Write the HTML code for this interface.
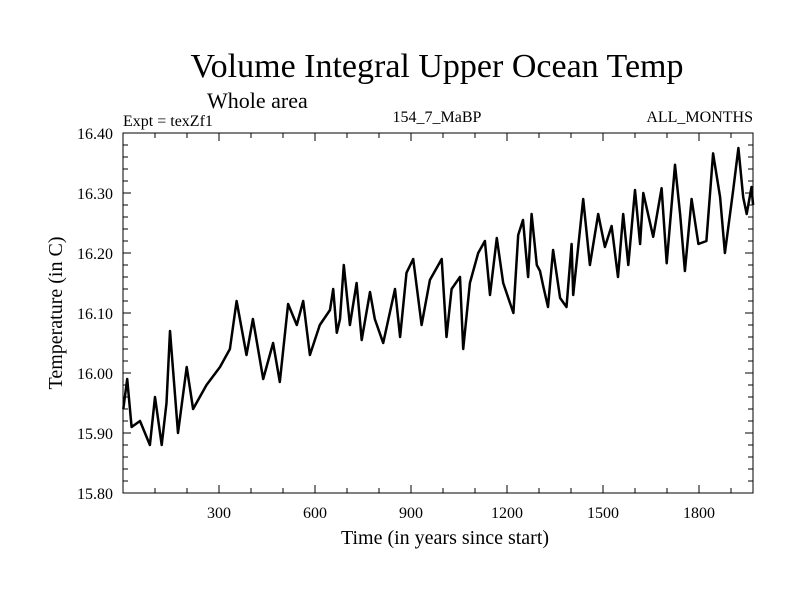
<!DOCTYPE html>
<html><head><meta charset="utf-8"><style>
body{margin:0;background:#fff}
svg{display:block}
text{font-family:"Liberation Serif",serif;fill:#000}
</style></head><body>
<svg id="chart" width="800" height="600">
<text x="437" y="77" font-size="34" text-anchor="middle">Volume Integral Upper Ocean Temp</text>
<text x="207" y="108" font-size="22">Whole area</text>
<text x="123" y="126" font-size="16">Expt = texZf1</text>
<text x="437" y="122" font-size="16" text-anchor="middle">154_7_MaBP</text>
<text x="753" y="122" font-size="16" text-anchor="end">ALL_MONTHS</text>
<text x="445" y="544" font-size="20" text-anchor="middle">Time (in years since start)</text>
<text transform="translate(62,313) rotate(-90)" font-size="20" text-anchor="middle">Temperature (in C)</text>
<g id="axes"></g>
<path id="series" fill="none" stroke="#000" stroke-width="2.5" stroke-linejoin="round"/>
<rect x="123" y="133" width="630" height="360" fill="none" stroke="#000" stroke-width="1"/>
</svg>
<script>
const years=[1,13,27,53,84,100,121,136,147,172,199,219,261,303,334,355,386,406,438,469,490,516,543,563,584,615,647,657,668,678,690,709,730,746,772,787,813,850,866,886,907,933,959,996,1011,1027,1053,1063,1084,1110,1131,1147,1168,1188,1220,1235,1250,1266,1277,1293,1303,1313,1328,1344,1366,1386,1402,1407,1438,1459,1485,1506,1527,1547,1563,1579,1600,1616,1626,1657,1683,1699,1725,1741,1756,1777,1798,1823,1844,1866,1881,1907,1923,1938,1949,1964,1969];
const temps=[15.94,15.99,15.91,15.92,15.88,15.96,15.88,15.95,16.07,15.90,16.01,15.94,15.98,16.01,16.04,16.12,16.03,16.09,15.99,16.05,15.985,16.115,16.08,16.12,16.03,16.08,16.105,16.14,16.067,16.09,16.18,16.08,16.15,16.055,16.135,16.09,16.05,16.14,16.06,16.167,16.19,16.08,16.155,16.19,16.06,16.14,16.16,16.04,16.15,16.20,16.22,16.13,16.225,16.15,16.10,16.23,16.255,16.16,16.265,16.18,16.17,16.145,16.11,16.205,16.125,16.11,16.215,16.13,16.29,16.18,16.265,16.21,16.245,16.16,16.265,16.18,16.305,16.215,16.30,16.227,16.308,16.183,16.347,16.265,16.17,16.29,16.215,16.22,16.366,16.293,16.20,16.305,16.375,16.293,16.265,16.31,16.28];
const yTicks=[15.80,15.90,16.00,16.10,16.20,16.30,16.40];
const xTicks=[300,600,900,1200,1500,1800];
const X0=123,X1=753,Y0=493,Y1=133,XMAX=(753-123)/0.32;
const xs=v=>X0+v*0.32;
const ys=v=>Y0-(v-15.8)/0.6*(Y0-Y1);
const ns="http://www.w3.org/2000/svg";
const ax=document.getElementById('axes');
function ln(x1,y1,x2,y2,n){const l=document.createElementNS(ns,'line');l.setAttribute('x1',x1);l.setAttribute('y1',y1);l.setAttribute('x2',x2);l.setAttribute('y2',y2);l.setAttribute('stroke','#000');


ax.appendChild(l);}
function tx(x,y,s,a,n){const t=document.createElementNS(ns,'text');t.setAttribute('x',x);t.setAttribute('y',y);t.setAttribute('font-size','16');t.setAttribute('text-anchor',a);t.textContent=s;


ax.appendChild(t);}
for(let v=15.80;v<=16.401;v+=0.02){const y=ys(v);const maj=Math.abs(v*10-Math.round(v*10))<1e-6;const L=maj?8:5;
ln(X0,y,X0+L,y,'y-tick');ln(X1,y,X1-L,y,'y-tick-right');}
yTicks.forEach(v=>tx(113,ys(v)+6,v.toFixed(2),'end','y-tick-label'));
for(let v=100;v<XMAX;v+=100){const x=xs(v);const L=v%300==0?8:5;ln(x,Y0,x,Y0-L,'x-tick');ln(x,Y1,x,Y1+L,'x-tick-top');}
xTicks.forEach(v=>tx(xs(v),518,String(v),'middle','x-tick-label'));
document.getElementById('series').setAttribute('d',years.map((v,i)=>(i?'L':'M')+xs(v).toFixed(1)+' '+ys(temps[i]).toFixed(1)).join(''));
</script>
</body></html>
